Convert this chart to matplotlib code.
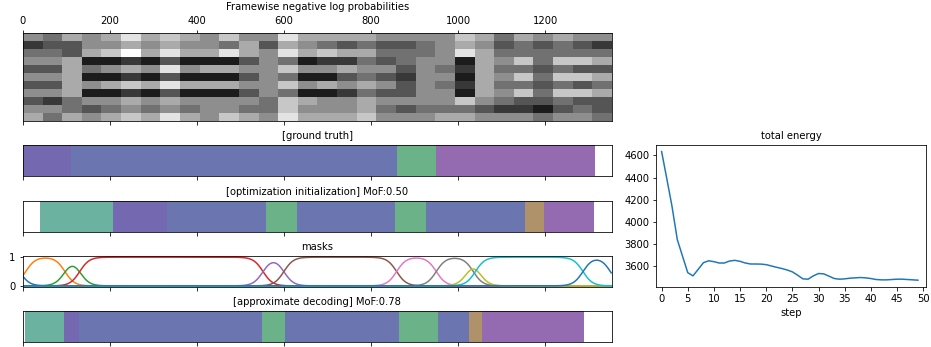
import numpy as np
import matplotlib
matplotlib.use("Agg")
import matplotlib.pyplot as plt

# number of frames in the video
n_frames = 1353

# framewise negative log probabilities (gray level 0-9, 11 actions x 30 blocks)
nll_rows = [
    "546568676575586666555576465655",
    "233556565546365434334565343432",
    "443679686686586766444586444444",
    "556112131113541224345516574776",
    "336456585665575565535426443433",
    "556112131113541134325516574776",
    "336567686665575656535426443434",
    "556112131113541124335516574776",
    "324556565555476556555575433433",
    "554345454554475556434443221343",
    "646567686576586667555665554554",
]

# segmentations: start frame, end frame, action
class_colors = {
    "teal": "#6bb3a0",
    "purple": "#7469b0",
    "slate": "#6b76b0",
    "green": "#6bb288",
    "brown": "#b0926a",
    "violet": "#946bb0",
}

gt_starts = [0, 111, 860, 949]
gt_ends = [111, 860, 949, 1314]
gt_classes = ["purple", "slate", "green", "violet"]

init_starts = [40, 207, 332, 558, 630, 856, 926, 1153, 1197]
init_ends = [207, 332, 558, 630, 856, 926, 1153, 1197, 1312]
init_classes = ["teal", "purple", "slate", "green", "slate", "green", "slate", "brown", "violet"]

dec_starts = [5, 94, 129, 550, 603, 864, 953, 1026, 1055]
dec_ends = [94, 129, 550, 603, 864, 953, 1026, 1055, 1289]
dec_classes = ["teal", "purple", "slate", "green", "slate", "green", "slate", "brown", "violet"]

# soft masks: start / end of each segment and transition width (frames)
mask_starts = [-200, 7, 97, 131, 552, 600, 859, 950, 1022, 1040, 1287]
mask_ends = [-7, 97, 131, 552, 600, 859, 950, 1035, 1048, 1287, 1350]
mask_width = 11

# total energy per optimization step
energy = [4636, 4390, 4139, 3841, 3692, 3543, 3514, 3573, 3633, 3650,
          3642, 3630, 3630, 3648, 3654, 3645, 3630, 3621, 3621, 3620,
          3615, 3603, 3591, 3580, 3567, 3550, 3520, 3487, 3484, 3514,
          3535, 3532, 3511, 3490, 3484, 3487, 3493, 3496, 3499, 3496,
          3490, 3481, 3478, 3478, 3481, 3484, 3484, 3481, 3478, 3475]


def draw_segments(ax, starts, ends, classes, title):
    for s, e, c in zip(starts, ends, classes):
        ax.broken_barh([(s, e - s)], (0, 1), facecolors=class_colors[c])
    ax.set_xlim(0, n_frames)
    ax.set_ylim(0, 1)
    ax.set_yticks([])
    ax.set_xticks(range(0, n_frames, 200))
    ax.set_xticklabels([])
    ax.set_title(title, fontsize=10)


fig = plt.figure(figsize=(931 / 72, 347 / 72), dpi=72)

left, width = 0.0244, 0.6326
ax_nll = fig.add_axes([left, 0.651, width, 0.253])
ax_gt = fig.add_axes([left, 0.493, width, 0.089])
ax_init = fig.add_axes([left, 0.332, width, 0.090])
ax_mask = fig.add_axes([left, 0.172, width, 0.091])
ax_dec = fig.add_axes([left, 0.0135, width, 0.0905])
ax_en = fig.add_axes([0.705, 0.174, 0.29, 0.408])

# heatmap
nll = np.array([[int(ch) for ch in row] for row in nll_rows], dtype=float)
ax_nll.imshow(nll, cmap="gray", vmin=0, vmax=9, aspect="auto",
              interpolation="nearest", extent=[0, n_frames, len(nll_rows), 0])
ax_nll.set_xlim(0, n_frames)
ax_nll.set_yticks([])
ax_nll.set_xticks(range(0, n_frames, 200))
ax_nll.tick_params(top=True, labeltop=True, bottom=True, labelbottom=False)
ax_nll.set_title("Framewise negative log probabilities", fontsize=10)

draw_segments(ax_gt, gt_starts, gt_ends, gt_classes, "[ground truth]")
draw_segments(ax_init, init_starts, init_ends, init_classes,
              "[optimization initialization] MoF:0.50")
draw_segments(ax_dec, dec_starts, dec_ends, dec_classes,
              "[approximate decoding] MoF:0.78")

# masks
t = np.arange(n_frames)
sig = lambda x: 1.0 / (1.0 + np.exp(-x))
for s, e in zip(mask_starts, mask_ends):
    m = sig((t - s) / mask_width) * sig((e - t) / mask_width)
    ax_mask.plot(t, m)
ax_mask.set_xlim(0, n_frames)
ax_mask.set_xticks(range(0, n_frames, 200))
ax_mask.set_xticklabels([])
ax_mask.set_yticks([0, 1])
ax_mask.set_title("masks", fontsize=10)

# energy
ax_en.plot(range(len(energy)), energy)
ax_en.set_xlim(-1, 50.6)
ax_en.set_xticks(range(0, 51, 5))
ax_en.set_xlabel("step")
ax_en.set_title("total energy", fontsize=10)

fig.savefig("out.png", dpi=72)
